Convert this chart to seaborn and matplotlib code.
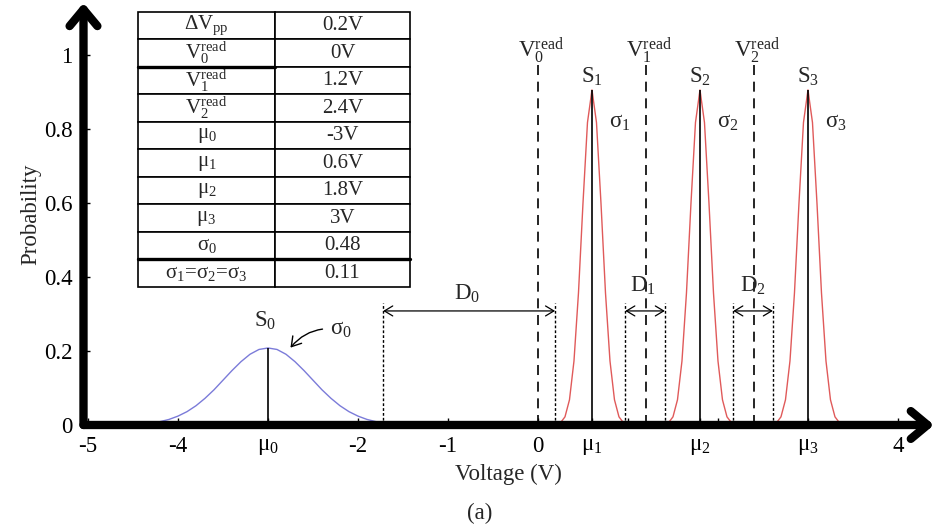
import matplotlib
matplotlib.use("Agg")
import matplotlib.pyplot as plt
import seaborn as sns
import pandas as pd

# ---------------- data ----------------
# S0 (blue) curve: voltage and probability
s0_voltage = [-4.4, -4.3, -4.2, -4.1, -4.0, -3.9, -3.8, -3.7, -3.6, -3.5, -3.4, -3.3, -3.2, -3.1,
              -3.0, -2.9, -2.8, -2.7, -2.6, -2.5, -2.4, -2.3, -2.2, -2.1, -2.0, -1.9, -1.8, -1.7]
s0_prob = [0.003, 0.005, 0.009, 0.015, 0.024, 0.036, 0.052, 0.072, 0.095, 0.121, 0.147, 0.171, 0.191, 0.204,
           0.208, 0.204, 0.191, 0.171, 0.147, 0.121, 0.095, 0.072, 0.052, 0.036, 0.024, 0.015, 0.009, 0.005]

# S1..S3 (red) curves: shape around each mean (offset in V, probability)
peak_offset = [-0.40, -0.35, -0.30, -0.25, -0.20, -0.15, -0.10, -0.05, 0.00,
               0.05, 0.10, 0.15, 0.20, 0.25, 0.30, 0.35, 0.40]
peak_prob = [0.001, 0.006, 0.022, 0.068, 0.173, 0.357, 0.599, 0.817, 0.905,
             0.817, 0.599, 0.357, 0.173, 0.068, 0.022, 0.006, 0.001]

state_names = ["S1", "S2", "S3"]
state_means = [0.6, 1.8, 3.0]
mu0, peak0 = -3.0, 0.208
peak_high = 0.905

v_read = [0.0, 1.2, 2.4]
v_read_labels = [r"$\mathregular{V_0^{read}}$", r"$\mathregular{V_1^{read}}$", r"$\mathregular{V_2^{read}}$"]
margin_edges = [-1.72, 0.19, 0.97, 1.41, 2.17, 2.61]
d_labels = [r"$\mathregular{D_0}$", r"$\mathregular{D_1}$", r"$\mathregular{D_2}$"]

x_ticks = [-5, -4, -3, -2, -1, 0, 0.6, 1, 1.8, 2, 3, 4]
x_tick_labels = ["-5", "-4", r"$\mathregular{μ_0}$", "-2", "-1", "0", r"$\mathregular{μ_1}$", "",
                 r"$\mathregular{μ_2}$", "", r"$\mathregular{μ_3}$", "4"]
y_ticks = [0, 0.2, 0.4, 0.6, 0.8, 1.0]
y_tick_labels = ["0", "0.2", "0.4", "0.6", "0.8", "1"]

table_params = [r"$\mathregular{ΔV_{pp}}$", r"$\mathregular{V_0^{read}}$", r"$\mathregular{V_1^{read}}$",
                r"$\mathregular{V_2^{read}}$", r"$\mathregular{μ_0}$", r"$\mathregular{μ_1}$",
                r"$\mathregular{μ_2}$", r"$\mathregular{μ_3}$", r"$\mathregular{σ_0}$",
                r"$\mathregular{σ_1}$=$\mathregular{σ_2}$=$\mathregular{σ_3}$"]
table_values = ["0.2V", "0V", "1.2V", "2.4V", "-3V", "0.6V", "1.8V", "3V", "0.48", "0.11"]

# ---------------- build long table ----------------
rows = []
for v, p in zip(s0_voltage, s0_prob):
    rows.append(("S0", v, p))
for name, m in zip(state_names, state_means):
    for o, p in zip(peak_offset, peak_prob):
        rows.append((name, m + o, p))
df = pd.DataFrame(rows, columns=["state", "voltage", "probability"])

# ---------------- style ----------------
sns.set_theme(style="white")
plt.rcParams["font.family"] = ["Liberation Serif", "DejaVu Serif"]
plt.rcParams["mathtext.fontset"] = "stix"
FS = 16.5

fig = plt.figure(figsize=(9.35, 5.25), dpi=100)
ax = fig.add_axes([0.0893, 0.1905, 0.9096, 0.804])

palette = {"S0": "#7b7bd9", "S1": "#e05a5a", "S2": "#e05a5a", "S3": "#e05a5a"}
sns.lineplot(data=df, x="voltage", y="probability", hue="state", palette=palette,
             estimator=None, sort=False, legend=False, linewidth=1.0, ax=ax)

ax.set_xlim(-5.05, 4.4)
ax.set_ylim(0, 1.14)
for s in ax.spines.values():
    s.set_visible(False)

# mean lines
ax.vlines([mu0], 0, peak0, color="black", lw=1.2)
ax.vlines(state_means, 0, peak_high, color="black", lw=1.2)
# read voltages
ax.vlines(v_read, 0, 0.975, color="black", lw=1.2, linestyles=[(0, (6, 4))])
# margins
ax.vlines(margin_edges, 0, 0.33, color="black", lw=1.0, linestyles=[(0, (2, 1.5))])

# D arrows
for i in range(3):
    a, b = margin_edges[2 * i], margin_edges[2 * i + 1]
    ax.annotate("", xy=(b, 0.308), xytext=(a, 0.308),
                arrowprops=dict(arrowstyle="<->,head_length=0.5,head_width=0.3", lw=0.9,
                                color="black", shrinkA=0, shrinkB=0))
d_pos = [(-0.79, 0.355), (1.17, 0.375), (2.39, 0.375)]
for lab, (x, y) in zip(d_labels, d_pos):
    ax.text(x, y, lab, ha="center", va="center", fontsize=FS)

# V read labels
for v, lab in zip(v_read, v_read_labels):
    ax.text(v + 0.03, 1.01, lab, ha="center", va="center", fontsize=FS)

# S labels and sigma labels
ax.text(-3.03, 0.28, r"$\mathregular{S_0}$", ha="center", va="center", fontsize=FS)
for i, m in enumerate(state_means):
    ax.text(m, 0.94, r"$\mathregular{S_%d}$" % (i + 1), ha="center", va="center", fontsize=FS)
    ax.text(m + 0.31, 0.816, r"$\mathregular{σ_%d}$" % (i + 1), ha="center", va="center", fontsize=FS)
ax.annotate(r"$\mathregular{σ_0}$", xy=(-2.76, 0.206), xytext=(-2.19, 0.257),
            ha="center", va="center", fontsize=FS,
            arrowprops=dict(arrowstyle="->,head_length=0.4,head_width=0.25", lw=1.0, color="black",
                            connectionstyle="arc3,rad=0.3", shrinkA=3, shrinkB=1))

# ticks
ax.set_xticks(x_ticks)
ax.set_xticklabels(x_tick_labels)
ax.set_yticks(y_ticks)
ax.set_yticklabels(y_tick_labels)
ax.tick_params(axis="both", direction="in", length=5, width=1, colors="black",
               labelsize=FS, pad=8, bottom=True, left=True)
ax.set_xlabel("Voltage (V)", fontsize=FS, labelpad=5)
ax.set_ylabel("Probability", fontsize=FS, labelpad=2)
ax.grid(False)

# axis arrows
ax.annotate("", xy=(1.0, 0.0), xytext=(0.0, 0.0), xycoords="axes fraction",
            textcoords="axes fraction", annotation_clip=False,
            arrowprops=dict(arrowstyle="->,head_length=0.6,head_width=0.5", lw=6,
                            color="black", mutation_scale=20, shrinkA=0, shrinkB=0))
ax.annotate("", xy=(0.0, 1.0), xytext=(0.0, 0.0), xycoords="axes fraction",
            textcoords="axes fraction", annotation_clip=False,
            arrowprops=dict(arrowstyle="->,head_length=0.6,head_width=0.5", lw=6,
                            color="black", mutation_scale=20, shrinkA=0, shrinkB=0))

# parameter table
tbl = ax.table(cellText=[[p, v] for p, v in zip(table_params, table_values)],
               colWidths=[0.504, 0.496], cellLoc="center",
               bbox=[0.0641, 0.327, 0.3198, 0.6517])
tbl.auto_set_font_size(False)
tbl.set_fontsize(15)
for cell in tbl.get_celld().values():
    cell.set_linewidth(1.2)
    cell.set_edgecolor("black")
ax.plot([0.0641, 0.0641 + 0.3198 * 0.504], [0.8483, 0.8483], transform=ax.transAxes,
        color="black", lw=2.4, clip_on=False)
ax.plot([0.0641, 0.0641 + 0.3198], [0.3922, 0.3922], transform=ax.transAxes,
        color="black", lw=2.4, clip_on=False)

fig.text(480 / 935, 1 - 513 / 525, "(a)", ha="center", va="center", fontsize=FS)

fig.savefig("out.png", dpi=100)
